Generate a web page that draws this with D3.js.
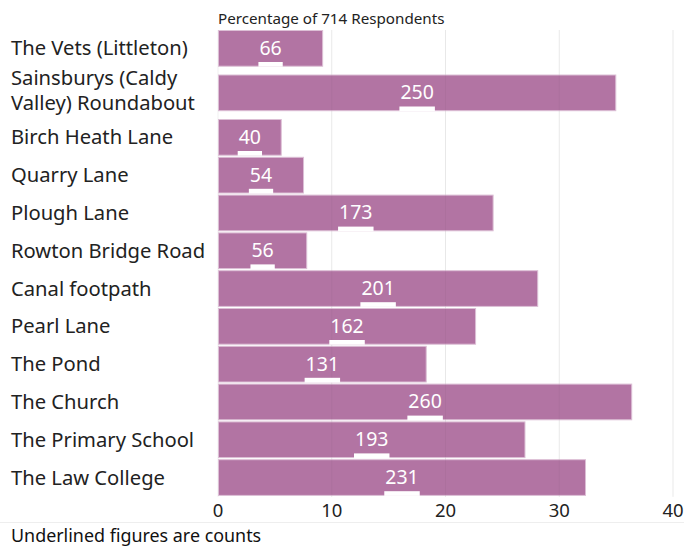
<!DOCTYPE html>
<html>
<head>
<meta charset="utf-8">
<script src="https://cdn.jsdelivr.net/npm/d3@7"></script>
<style>
html,body{margin:0;padding:0;background:#fff;}
svg{display:block;}
text{font-family:"Noto Sans","Open Sans",sans-serif;}
</style>
</head>
<body>
<svg id="chart" width="687" height="547"></svg>
<script>
const categories = [
  ["The Vets (Littleton)"],
  ["Sainsburys (Caldy", "Valley) Roundabout"],
  ["Birch Heath Lane"],
  ["Quarry Lane"],
  ["Plough Lane"],
  ["Rowton Bridge Road"],
  ["Canal footpath"],
  ["Pearl Lane"],
  ["The Pond"],
  ["The Church"],
  ["The Primary School"],
  ["The Law College"]
];
const counts = [66, 250, 40, 54, 173, 56, 201, 162, 131, 260, 193, 231];
const totalRespondents = 714;
const xTicks = [0, 10, 20, 30, 40];
const subtitle = "Percentage of 714 Respondents";
const footnote = "Underlined figures are counts";

(function () {
const svg = d3.select("#chart");
const mLeft = 218, mRight = 673, mTop = 30;
const baseStep = 37.8, extraLine = 13.4, barH = 36.7;

const x = d3.scaleLinear().domain([0, 40]).range([mLeft, mRight]);

const rows = [];
let cur = mTop;
categories.forEach((lines, i) => {
  const h = baseStep + (lines.length - 1) * extraLine;
  rows.push({lines, count: counts[i], pct: counts[i] / totalRespondents * 100, y0: cur, h});
  cur += h;
});
const y = d => d.y0 + (d.h - baseStep) / 2;
const mBottom = rows[rows.length - 1].y0 + barH + 1;

svg.append("g").selectAll("line").data(xTicks).join("line")
  .attr("x1", d => x(d)).attr("x2", d => x(d))
  .attr("y1", mTop).attr("y2", mBottom)
  .attr("stroke", "#000").attr("stroke-opacity", 0.06).attr("stroke-width", 1);

svg.append("g").selectAll("rect").data(rows).join("rect")
  .attr("x", x(0) + 0.5)
  .attr("y", d => y(d) + 0.5)
  .attr("width", d => x(d.pct) - x(0) - 1)
  .attr("height", barH - 1)
  .attr("fill", "#b06fa0")
  .attr("fill-opacity", 0.97)
  .attr("stroke", "#dcbfd5")
  .attr("stroke-width", 1);

svg.append("g").selectAll("line").data(xTicks.filter(d => d > 0)).join("line")
  .attr("x1", d => x(d)).attr("x2", d => x(d))
  .attr("y1", mTop).attr("y2", mBottom)
  .attr("stroke", "#000").attr("stroke-opacity", 0.03);

const lab = svg.append("g").selectAll("g").data(rows).join("g");
lab.append("text")
  .attr("x", d => x(d.pct / 2))
  .attr("y", d => y(d) + barH / 2 + 6.5)
  .attr("text-anchor", "middle")
  .attr("fill", "#fff")
  .attr("font-size", 19.5)
  .text(d => d.count)
  .each(function(d) { d.tw = this.getComputedTextLength(); });
lab.append("rect")
  .attr("x", d => x(d.pct / 2) - d.tw / 2 - 1)
  .attr("y", d => y(d) + barH - 4.7)
  .attr("width", d => d.tw + 2)
  .attr("height", 4.7)
  .attr("fill", "#fff");

const cl = svg.append("g").selectAll("text").data(rows).join("text")
  .attr("x", 11)
  .attr("font-size", 20.2)
  .attr("fill", "#222");
cl.each(function(d) {
  const n = d.lines.length;
  const cy = y(d) + barH / 2;
  d3.select(this).selectAll("tspan").data(d.lines).join("tspan")
    .attr("x", 11)
    .attr("y", (t, j) => cy + 7 + (j - (n - 1) / 2) * 25 - (n - 1) * 2.5)
    .text(t => t);
});

svg.append("g").selectAll("text").data(xTicks).join("text")
  .attr("x", d => x(d))
  .attr("y", 517)
  .attr("text-anchor", "middle")
  .attr("font-size", 18.5)
  .attr("fill", "#222")
  .text(d => d);

svg.append("text").attr("x", mLeft).attr("y", 24)
  .attr("font-size", 15.2).attr("fill", "#222").text(subtitle);

svg.append("line").attr("x1", 0).attr("x2", 684).attr("y1", 522.5).attr("y2", 522.5)
  .attr("stroke", "#eee");
svg.append("text").attr("x", 11).attr("y", 542)
  .attr("font-size", 17.9).attr("fill", "#111").text(footnote);
})();
</script>
</body>
</html>
